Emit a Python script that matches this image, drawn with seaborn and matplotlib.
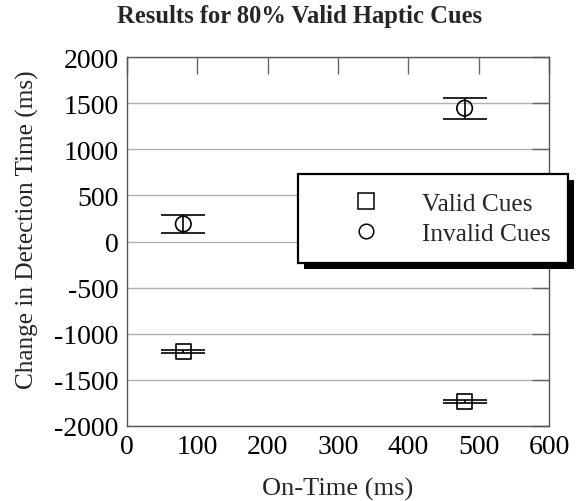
import numpy as np
import pandas as pd
import matplotlib
matplotlib.use("Agg")
import matplotlib.pyplot as plt
from matplotlib.lines import Line2D
from matplotlib.patches import Rectangle
import seaborn as sns

# values
on_time = [80, 480]
valid_mean = [-1190, -1735]
valid_err = [16, 16]
invalid_mean = [190, 1445]
invalid_err = [95, 112]
cue_labels = ["Valid Cues", "Invalid Cues"]

df = pd.DataFrame({
    "on_time": on_time * 2,
    "change": valid_mean + invalid_mean,
    "err": valid_err + invalid_err,
    "cue": [cue_labels[0]] * 2 + [cue_labels[1]] * 2,
})

sns.set_style("white")
plt.rcParams["font.family"] = ["Liberation Serif", "DejaVu Serif"]
plt.rcParams["axes.unicode_minus"] = False

fig = plt.figure(figsize=(5.79, 5.02), dpi=100)
ax = fig.add_axes([127 / 579, 1 - 427 / 502, 422 / 579, 369 / 502])

# error bars first, then hollow markers on top
ax.errorbar(df["on_time"], df["change"], yerr=df["err"], fmt="none",
            ecolor="black", elinewidth=1.2, capsize=16, capthick=1.2, zorder=3)
sns.scatterplot(data=df, x="on_time", y="change", style="cue",
                markers={cue_labels[0]: "s", cue_labels[1]: "o"},
                s=125, facecolor="none", edgecolor="black", linewidth=1.2,
                legend=False, ax=ax, zorder=4)

ax.set_xlim(0, 600)
ax.set_ylim(-2000, 2000)
ax.set_xticks(np.arange(0, 601, 100))
ax.set_yticks(np.arange(-2000, 2001, 500))
ax.yaxis.grid(True, color="#b0b0b0", linewidth=1.0)
ax.xaxis.grid(False)
ax.set_xlabel("")
ax.set_ylabel("")
for s in ax.spines.values():
    s.set_color("#555555")
    s.set_linewidth(1.0)
ax.tick_params(direction="in", length=12, width=1.0, color="#666666",
               top=True, right=True, labelsize=20, labelcolor="black")
ax.tick_params(axis="y", pad=6)
ax.tick_params(axis="x", pad=6)

fig.text(300 / 579, 1 - 17 / 502, "Results for 80% Valid Haptic Cues",
         ha="center", va="center", fontsize=17.7, fontweight="bold")
fig.text(27 / 579, 1 - 230 / 502, "Change in Detection Time (ms)",
         rotation=90, ha="center", va="center", fontsize=18.2)
fig.text(338 / 579, 1 - 489 / 502, "On-Time (ms)",
         ha="center", va="center", fontsize=19)

handles = [
    Line2D([], [], linestyle="none", marker="s", markersize=11,
           markerfacecolor="none", markeredgecolor="black", markeredgewidth=1.1),
    Line2D([], [], linestyle="none", marker="o", markersize=10.5,
           markerfacecolor="none", markeredgecolor="black", markeredgewidth=1.1),
]
leg = fig.legend(handles, cue_labels, loc="upper left",
                 bbox_to_anchor=(298 / 579, 1 - 175 / 502),
                 bbox_transform=fig.transFigure, borderaxespad=0,
                 fontsize=18.3, frameon=True, fancybox=False,
                 handlelength=3.9, handletextpad=0.24, borderpad=0.72,
                 labelspacing=0.28)
leg.get_frame().set_edgecolor("black")
leg.get_frame().set_linewidth(1.6)
leg.get_frame().set_facecolor("white")
leg.get_frame().set_alpha(1)
leg.set_zorder(6)

# solid black drop shadow behind the legend box
fig.canvas.draw()
bb = leg.get_frame().get_window_extent()
shadow = Rectangle((bb.x0 + 6, bb.y0 - 6), bb.width, bb.height,
                   transform=None, facecolor="black", edgecolor="none", zorder=5)
fig.add_artist(shadow)

fig.savefig("out.png", dpi=100)
